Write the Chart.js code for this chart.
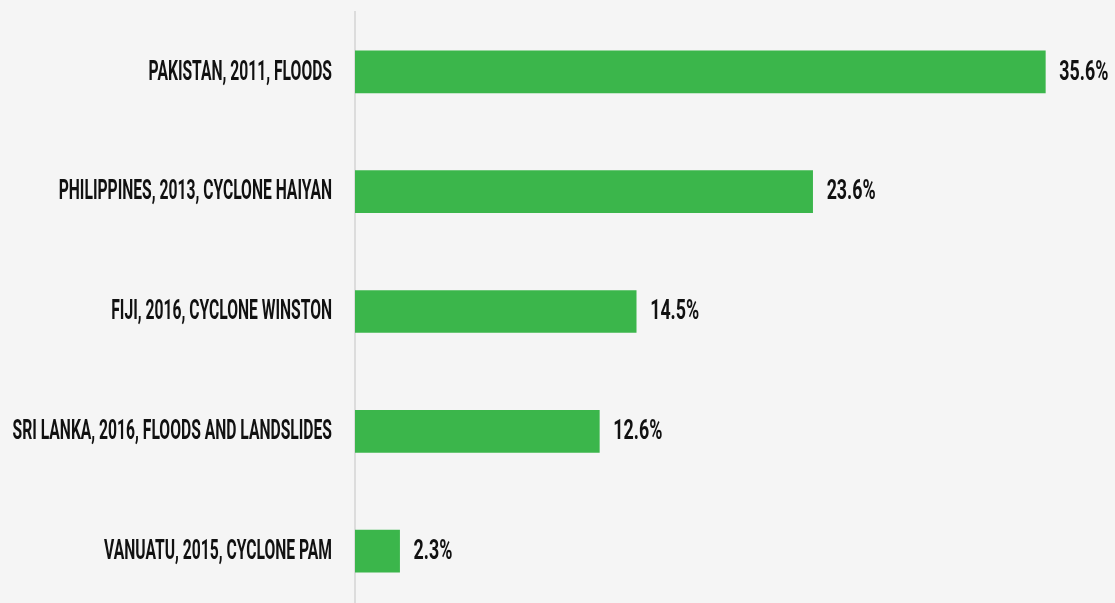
<!DOCTYPE html>
<html>
<head>
<meta charset="utf-8">
<script src="https://cdn.jsdelivr.net/npm/chart.js@4.4.1/dist/chart.umd.min.js"></script>
<style>
  html, body { margin: 0; padding: 0; background: #f5f5f5; overflow: hidden; }
  canvas { display: block; }
</style>
</head>
<body>
<canvas id="chart" width="1115" height="611"></canvas>
<script>
const categories = [
  "PAKISTAN, 2011, FLOODS",
  "PHILIPPINES, 2013, CYCLONE HAIYAN",
  "FIJI, 2016, CYCLONE WINSTON",
  "SRI LANKA, 2016, FLOODS AND LANDSLIDES",
  "VANUATU, 2015, CYCLONE PAM"
];
const values = [35.6, 23.6, 14.5, 12.6, 2.3];

// Tall, narrow headline lettering: a bold face squeezed horizontally.
const FONT = "bold 27px Roboto, 'Liberation Sans', sans-serif";
const LABEL_SQUEEZE = 0.58;
const VALUE_SQUEEZE = 0.66;

function condensedText(ctx, text, x, y, align, squeeze) {
  ctx.save();
  ctx.font = FONT;
  ctx.textBaseline = "middle";
  ctx.textAlign = "left";
  const w = ctx.measureText(text).width * squeeze;
  const left = align === "right" ? x - w : x;
  ctx.translate(left, y);
  ctx.scale(squeeze, 1);
  ctx.fillText(text, 0, 0);
  ctx.restore();
}

const labelPainter = {
  id: 'labelPainter',
  afterDraw(chart) {
    const ctx = chart.ctx;
    const yScale = chart.scales.y;
    const meta = chart.getDatasetMeta(0);
    ctx.save();
    ctx.fillStyle = "#111";
    categories.forEach((name, i) => {
      const y = yScale.getPixelForTick(i);
      condensedText(ctx, name, yScale.right - 23, y + 1, "right", LABEL_SQUEEZE);
    });
    meta.data.forEach((bar, i) => {
      condensedText(ctx, values[i].toFixed(1) + "%", bar.x + 14, bar.y + 1, "left", VALUE_SQUEEZE);
    });
    ctx.restore();
  }
};

new Chart(document.getElementById('chart'), {
  type: 'bar',
  data: {
    labels: categories,
    datasets: [{
      data: values,
      backgroundColor: '#3bb64b',
      borderWidth: 0,
      barThickness: 42
    }]
  },
  options: {
    indexAxis: 'y',
    responsive: false,
    animation: false,
    layout: { padding: { top: 12, right: 2, bottom: 0, left: 0 } },
    plugins: { legend: { display: false }, tooltip: { enabled: false } },
    scales: {
      x: {
        display: false,
        min: 0,
        max: 39.09
      },
      y: {
        afterFit(scale) { scale.width = 355; },
        grid: { display: false, drawTicks: false },
        border: { display: true, color: '#dcdcdc', width: 2 },
        ticks: { display: false }
      }
    }
  },
  plugins: [labelPainter]
});
</script>
</body>
</html>
